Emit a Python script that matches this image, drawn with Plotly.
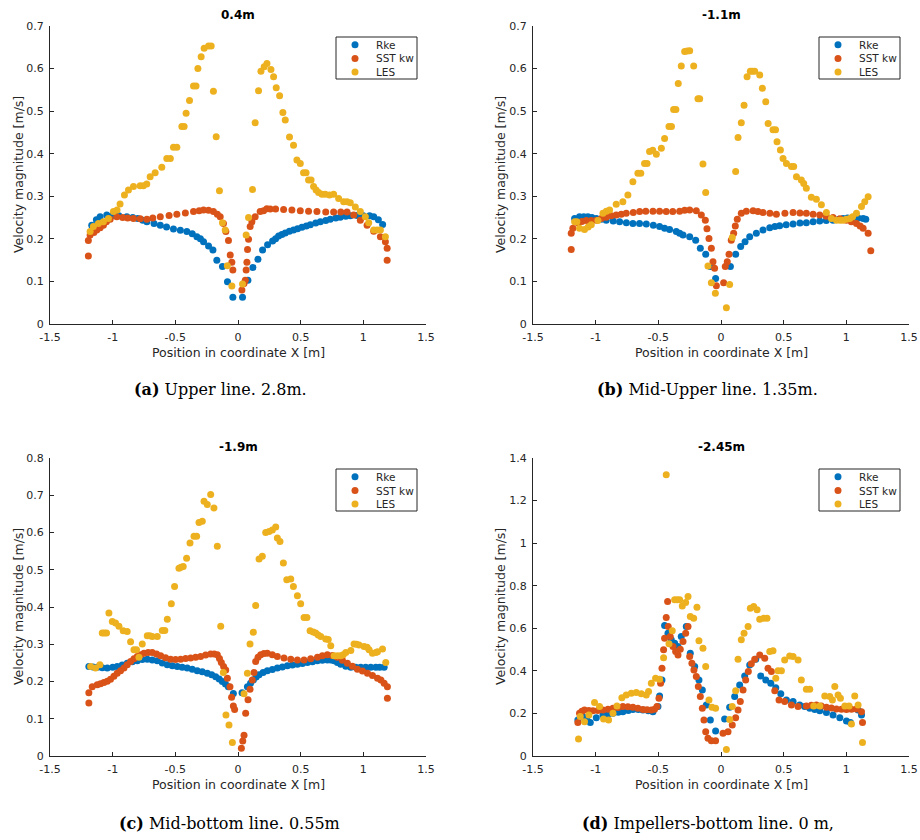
import plotly.graph_objects as go

W, H = 920, 840

X_TICKS = [-1.5, -1, -0.5, 0, 0.5, 1, 1.5]
X_TICK_TEXT = ["-1.5", "-1", "-0.5", "0", "0.5", "1", "1.5"]
Y_TICKS_07 = [0, 0.1, 0.2, 0.3, 0.4, 0.5, 0.6, 0.7]
Y_TICK_TEXT_07 = ["0", "0.1", "0.2", "0.3", "0.4", "0.5", "0.6", "0.7"]
Y_TICKS_08 = [0, 0.1, 0.2, 0.3, 0.4, 0.5, 0.6, 0.7, 0.8]
Y_TICK_TEXT_08 = ["0", "0.1", "0.2", "0.3", "0.4", "0.5", "0.6", "0.7", "0.8"]
Y_TICKS_14 = [0, 0.2, 0.4, 0.6, 0.8, 1.0, 1.2, 1.4]
Y_TICK_TEXT_14 = ["0", "0.2", "0.4", "0.6", "0.8", "1", "1.2", "1.4"]

SERIES_NAMES = ["Rke", "SST kw", "LES"]
SERIES_COLORS = ["#0072BD", "#D95319", "#EDB120"]

PANEL_TITLES = ["0.4m", "-1.1m", "-1.9m", "-2.45m"]
PANEL_CAPTIONS = [("(a)", "Upper line. 2.8m."), ("(b)", "Mid-Upper line. 1.35m."),
                  ("(c)", "Mid-bottom line. 0.55m"), ("(d)", "Impellers-bottom line. 0 m,")]
X_LABEL = "Position in coordinate X [m]"
Y_LABEL = "Velocity magnitude [m/s]"

# ---------------- (a) 0.4m ----------------
A_RKE = [(-1.167,0.232),(-1.13,0.245),(-1.1,0.252),(-1.047,0.256),(-1.0,0.255),(-0.95,0.254),(-0.887,0.252),
         (-0.84,0.25),(-0.8,0.248),(-0.76,0.244),(-0.727,0.240),(-0.67,0.236),(-0.62,0.232),(-0.57,0.228),
         (-0.515,0.223),(-0.46,0.22),(-0.408,0.217),(-0.365,0.212),(-0.328,0.205),(-0.3,0.2),(-0.275,0.193),
         (-0.235,0.183),(-0.2,0.174),(-0.169,0.150),(-0.124,0.135),(-0.084,0.099),(-0.041,0.063),(0.036,0.063),
         (0.079,0.103),(0.119,0.133),(0.159,0.152),(0.196,0.174),(0.236,0.186),(0.276,0.195),(0.3,0.2),
         (0.324,0.207),(0.35,0.21),(0.377,0.214),(0.41,0.218),(0.443,0.221),(0.475,0.224),(0.51,0.227),
         (0.545,0.23),(0.577,0.233),(0.62,0.237),(0.657,0.240),(0.7,0.243),(0.736,0.246),(0.78,0.249),
         (0.816,0.251),(0.86,0.253),(0.896,0.254),(0.95,0.255),(1.0,0.254),(1.05,0.254),(1.083,0.252),
         (1.12,0.245),(1.154,0.234)]
A_SST = [(-1.194,0.160),(-1.194,0.196),(-1.18,0.209),(-1.15,0.215),(-1.127,0.221),(-1.1,0.226),(-1.074,0.232),
         (-1.05,0.24),(-1.02,0.246),(-0.967,0.252),(-0.92,0.25),(-0.88,0.249),(-0.834,0.248),(-0.78,0.247),
         (-0.727,0.246),(-0.68,0.249),(-0.62,0.252),(-0.55,0.255),(-0.488,0.258),(-0.42,0.261),(-0.355,0.264),
         (-0.31,0.266),(-0.275,0.268),(-0.235,0.267),(-0.196,0.264),(-0.165,0.258),(-0.142,0.252),(-0.116,0.236),
         (-0.097,0.217),(-0.076,0.196),(-0.062,0.162),(-0.049,0.145),(-0.041,0.127),(0.031,0.080),(0.048,0.095),
         (0.058,0.103),(0.065,0.127),(0.071,0.145),(0.076,0.175),(0.084,0.199),(0.097,0.229),(0.111,0.240),
         (0.137,0.252),(0.177,0.264),(0.204,0.266),(0.23,0.271),(0.257,0.270),(0.3,0.27),(0.364,0.269),
         (0.43,0.268),(0.497,0.266),(0.563,0.265),(0.63,0.264),(0.7,0.263),(0.763,0.263),(0.82,0.263),
         (0.87,0.263),(0.923,0.256),(0.976,0.244),(1.03,0.232),(1.083,0.218),(1.136,0.205),(1.176,0.193),
         (1.19,0.178),(1.19,0.150)]
A_LES = [(-1.18,0.217),(-1.154,0.229),(-1.114,0.236),(-1.074,0.240),(-1.034,0.248),(-0.994,0.264),(-0.965,0.268),
         (-0.941,0.282),(-0.906,0.303),(-0.874,0.315),(-0.834,0.323),(-0.781,0.325),(-0.755,0.325),(-0.728,0.329),
         (-0.701,0.346),(-0.661,0.355),(-0.608,0.368),(-0.568,0.389),(-0.54,0.389),(-0.515,0.415),(-0.488,0.415),
         (-0.448,0.464),(-0.43,0.464),(-0.414,0.495),(-0.387,0.525),(-0.355,0.559),(-0.335,0.559),(-0.32,0.600),
         (-0.294,0.628),(-0.27,0.648),(-0.235,0.653),(-0.214,0.653),(-0.196,0.547),(-0.174,0.440),(-0.148,0.313),
         (-0.124,0.238),(-0.102,0.221),(-0.085,0.137),(-0.049,0.089),(0.036,0.094),(0.065,0.209),(0.084,0.250),
         (0.116,0.316),(0.137,0.473),(0.164,0.548),(0.183,0.594),(0.209,0.604),(0.231,0.612),(0.263,0.598),
         (0.284,0.581),(0.305,0.555),(0.332,0.536),(0.358,0.497),(0.377,0.479),(0.411,0.439),(0.443,0.420),
         (0.470,0.385),(0.497,0.377),(0.523,0.355),(0.543,0.355),(0.563,0.338),(0.583,0.338),(0.603,0.323),
         (0.623,0.315),(0.643,0.309),(0.67,0.305),(0.696,0.305),(0.73,0.303),(0.763,0.305),(0.803,0.295),
         (0.843,0.287),(0.87,0.287),(0.896,0.285),(0.936,0.275),(0.976,0.264),(1.016,0.252),(1.043,0.238),
         (1.083,0.221),(1.11,0.221),(1.136,0.221),(1.176,0.205)]

# ---------------- (b) -1.1m ----------------
B_RKE = [(-1.168,0.248),(-1.129,0.252),(-1.095,0.252),(-1.062,0.252),(-1.03,0.25),(-0.995,0.248),(-0.955,0.246),
         (-0.916,0.244),(-0.86,0.242),(-0.809,0.240),(-0.755,0.238),(-0.703,0.236),(-0.65,0.236),(-0.596,0.235),
         (-0.54,0.232),(-0.49,0.229),(-0.45,0.225),(-0.41,0.222),(-0.357,0.217),(-0.33,0.213),(-0.303,0.209),
         (-0.25,0.205),(-0.202,0.197),(-0.165,0.178),(-0.122,0.164),(-0.085,0.135),(-0.043,0.107),(0.075,0.135),
         (0.117,0.164),(0.157,0.182),(0.192,0.193),(0.229,0.205),(0.282,0.213),(0.335,0.221),(0.389,0.226),
         (0.43,0.229),(0.468,0.231),(0.52,0.233),(0.575,0.235),(0.63,0.237),(0.681,0.238),(0.735,0.24),
         (0.788,0.242),(0.84,0.243),(0.894,0.244),(0.94,0.246),(0.974,0.248),(1.01,0.249),(1.054,0.250),
         (1.094,0.249),(1.134,0.248),(1.155,0.246)]
B_SST = [(-1.195,0.175),(-1.195,0.213),(-1.182,0.225),(-1.142,0.238),(-1.11,0.241),(-1.075,0.243),(-1.035,0.243),
         (-0.995,0.244),(-0.955,0.248),(-0.916,0.251),(-0.876,0.254),(-0.836,0.256),(-0.796,0.258),(-0.756,0.260),
         (-0.7,0.262),(-0.649,0.264),(-0.6,0.265),(-0.543,0.265),(-0.49,0.265),(-0.437,0.264),(-0.385,0.264),
         (-0.33,0.265),(-0.29,0.267),(-0.25,0.268),(-0.197,0.266),(-0.157,0.256),(-0.125,0.244),(-0.112,0.224),
         (-0.096,0.201),(-0.077,0.178),(-0.064,0.146),(-0.051,0.131),(-0.037,0.090),(0.021,0.097),(0.034,0.135),
         (0.05,0.146),(0.064,0.164),(0.082,0.197),(0.101,0.213),(0.114,0.230),(0.13,0.246),(0.162,0.260),
         (0.202,0.265),(0.256,0.266),(0.295,0.264),(0.335,0.262),(0.39,0.26),(0.442,0.258),(0.51,0.26),
         (0.575,0.262),(0.63,0.261),(0.681,0.260),(0.735,0.258),(0.788,0.256),(0.84,0.253),(0.894,0.250),
         (0.95,0.247),(1.001,0.244),(1.04,0.24),(1.081,0.236),(1.11,0.23),(1.134,0.225),(1.174,0.213),
         (1.195,0.172)]
B_LES = [(-1.168,0.240),(-1.15,0.24),(-1.129,0.225),(-1.089,0.222),(-1.06,0.228),(-1.035,0.233),(-0.982,0.243),
         (-0.942,0.260),(-0.915,0.265),(-0.889,0.268),(-0.836,0.281),(-0.783,0.287),(-0.743,0.303),(-0.703,0.334),
         (-0.663,0.354),(-0.64,0.354),(-0.61,0.377),(-0.59,0.377),(-0.57,0.405),(-0.545,0.408),(-0.516,0.399),
         (-0.476,0.413),(-0.45,0.436),(-0.415,0.464),(-0.395,0.464),(-0.378,0.504),(-0.36,0.504),(-0.341,0.565),
         (-0.317,0.606),(-0.29,0.640),(-0.27,0.641),(-0.25,0.642),(-0.218,0.606),(-0.184,0.529),(-0.17,0.529),
         (-0.144,0.376),(-0.122,0.309),(-0.104,0.136),(-0.077,0.097),(-0.045,0.072),(0.043,0.038),(0.069,0.093),
         (0.09,0.203),(0.117,0.358),(0.136,0.438),(0.162,0.473),(0.184,0.514),(0.208,0.581),(0.234,0.594),
         (0.25,0.594),(0.269,0.594),(0.309,0.585),(0.33,0.554),(0.357,0.522),(0.376,0.471),(0.415,0.456),
         (0.435,0.456),(0.447,0.428),(0.474,0.409),(0.495,0.389),(0.522,0.377),(0.562,0.370),(0.58,0.37),
         (0.602,0.346),(0.641,0.338),(0.66,0.33),(0.681,0.319),(0.721,0.298),(0.761,0.293),(0.801,0.280),
         (0.841,0.262),(0.881,0.248),(0.921,0.244),(0.95,0.244),(0.974,0.244),(1.0,0.246),(1.027,0.248),
         (1.05,0.252),(1.081,0.260),(1.121,0.276),(1.147,0.287),(1.174,0.299)]

# ---------------- (c) -1.9m ----------------
C_RKE = [(-1.19,0.240),(-1.157,0.239),(-1.123,0.238),(-1.083,0.237),(-1.043,0.236),(-1.0,0.238),(-0.964,0.240),
         (-0.924,0.244),(-0.884,0.249),(-0.844,0.253),(-0.804,0.256),(-0.764,0.259),(-0.724,0.260),(-0.684,0.258),
         (-0.644,0.256),(-0.604,0.25),(-0.564,0.245),(-0.524,0.242),(-0.484,0.240),(-0.445,0.238),(-0.405,0.236),
         (-0.365,0.233),(-0.325,0.229),(-0.285,0.226),(-0.245,0.222),(-0.21,0.218),(-0.178,0.213),(-0.15,0.207),
         (-0.125,0.200),(-0.1,0.193),(-0.077,0.186),(-0.037,0.168),(0.032,0.170),(0.075,0.186),(0.1,0.195),
         (0.122,0.204),(0.145,0.212),(0.168,0.218),(0.2,0.224),(0.234,0.229),(0.274,0.232),(0.314,0.236),
         (0.354,0.239),(0.394,0.242),(0.434,0.244),(0.474,0.246),(0.514,0.248),(0.554,0.251),(0.594,0.253),
         (0.633,0.256),(0.673,0.257),(0.713,0.258),(0.74,0.258),(0.767,0.256),(0.793,0.251),(0.82,0.246),
         (0.86,0.241),(0.9,0.238),(0.94,0.238),(0.979,0.238),(1.019,0.238),(1.059,0.238),(1.1,0.238),
         (1.13,0.238),(1.166,0.238)]
C_SST = [(-1.19,0.142),(-1.19,0.170),(-1.163,0.186),(-1.123,0.191),(-1.097,0.194),(-1.07,0.197),(-1.043,0.201),
         (-1.017,0.206),(-0.99,0.214),(-0.964,0.222),(-0.937,0.229),(-0.91,0.236),(-0.884,0.245),(-0.857,0.254),
         (-0.83,0.261),(-0.804,0.267),(-0.777,0.272),(-0.75,0.276),(-0.717,0.278),(-0.684,0.278),(-0.65,0.274),
         (-0.617,0.269),(-0.578,0.264),(-0.538,0.260),(-0.498,0.259),(-0.458,0.260),(-0.418,0.262),(-0.378,0.263),
         (-0.338,0.265),(-0.298,0.267),(-0.258,0.271),(-0.218,0.274),(-0.19,0.274),(-0.165,0.272),(-0.148,0.262),
         (-0.133,0.251),(-0.115,0.24),(-0.098,0.231),(-0.085,0.209),(-0.064,0.186),(-0.051,0.158),(-0.037,0.134),
         (-0.027,0.125),(0.027,0.021),(0.038,0.04),(0.048,0.056),(0.061,0.115),(0.08,0.151),(0.096,0.179),
         (0.114,0.204),(0.128,0.224),(0.141,0.254),(0.16,0.265),(0.181,0.272),(0.207,0.275),(0.234,0.276),
         (0.274,0.272),(0.314,0.267),(0.367,0.263),(0.421,0.260),(0.474,0.258),(0.527,0.258),(0.58,0.261),
         (0.634,0.265),(0.673,0.269),(0.713,0.272),(0.753,0.27),(0.793,0.265),(0.833,0.257),(0.873,0.249),
         (0.913,0.241),(0.953,0.233),(0.993,0.228),(1.033,0.222),(1.073,0.216),(1.113,0.209),(1.14,0.204),
         (1.166,0.195),(1.192,0.186),(1.192,0.155)]
C_LES = [(-1.176,0.240),(-1.137,0.236),(-1.102,0.245),(-1.083,0.330),(-1.066,0.330),(-1.049,0.330),(-1.03,0.384),
         (-1.003,0.361),(-0.977,0.357),(-0.95,0.348),(-0.916,0.336),(-0.884,0.334),(-0.857,0.307),(-0.83,0.285),
         (-0.81,0.285),(-0.79,0.265),(-0.764,0.301),(-0.724,0.323),(-0.704,0.323),(-0.684,0.321),(-0.644,0.321),
         (-0.604,0.337),(-0.584,0.337),(-0.564,0.367),(-0.532,0.409),(-0.506,0.455),(-0.471,0.504),(-0.455,0.507),
         (-0.437,0.509),(-0.41,0.531),(-0.383,0.572),(-0.351,0.590),(-0.33,0.590),(-0.311,0.627),(-0.285,0.630),
         (-0.271,0.684),(-0.245,0.675),(-0.218,0.702),(-0.192,0.666),(-0.165,0.563),(-0.138,0.348),(-0.117,0.224),
         (-0.096,0.110),(-0.072,0.083),(-0.045,0.036),(0.048,0.167),(0.075,0.222),(0.096,0.301),(0.122,0.332),
         (0.141,0.404),(0.168,0.529),(0.194,0.536),(0.221,0.600),(0.248,0.603),(0.274,0.607),(0.301,0.615),
         (0.314,0.585),(0.335,0.576),(0.362,0.518),(0.389,0.473),(0.421,0.475),(0.442,0.455),(0.474,0.430),
         (0.5,0.409),(0.527,0.372),(0.55,0.372),(0.575,0.336),(0.6,0.333),(0.62,0.330),(0.64,0.325),(0.66,0.321),
         (0.7,0.314),(0.72,0.313),(0.74,0.296),(0.767,0.269),(0.795,0.269),(0.82,0.269),(0.84,0.272),(0.86,0.278),
         (0.9,0.283),(0.926,0.301),(0.946,0.300),(0.966,0.298),(1.006,0.294),(1.03,0.292),(1.046,0.285),
         (1.073,0.276),(1.1,0.278),(1.113,0.280),(1.153,0.287),(1.179,0.251)]

# ---------------- (d) -2.45m ----------------
D_RKE = [(-1.142,0.169),(-1.102,0.185),(-1.07,0.17),(-1.043,0.157),(-0.995,0.180),(-0.942,0.193),(-0.9,0.197),
         (-0.862,0.201),(-0.82,0.205),(-0.783,0.208),(-0.74,0.214),(-0.703,0.219),(-0.66,0.218),(-0.623,0.216),
         (-0.58,0.212),(-0.543,0.208),(-0.503,0.232),(-0.49,0.282),(-0.471,0.357),(-0.45,0.613),(-0.423,0.577),
         (-0.397,0.546),(-0.37,0.530),(-0.344,0.514),(-0.317,0.561),(-0.277,0.608),(-0.245,0.483),(-0.21,0.420),
         (-0.176,0.357),(-0.149,0.310),(-0.117,0.240),(-0.085,0.169),(-0.043,0.118),(0.029,0.174),(0.069,0.229),
         (0.109,0.279),(0.149,0.334),(0.189,0.376),(0.229,0.428),(0.277,0.455),(0.317,0.376),(0.357,0.357),
         (0.397,0.342),(0.437,0.321),(0.477,0.292),(0.522,0.263),(0.575,0.256),(0.628,0.240),(0.668,0.232),
         (0.708,0.224),(0.748,0.218),(0.788,0.213),(0.841,0.204),(0.894,0.193),(0.948,0.180),(1.001,0.165),
         (1.033,0.157),(1.094,0.216),(1.121,0.193)]
D_SST = [(-1.142,0.157),(-1.129,0.201),(-1.11,0.21),(-1.089,0.216),(-1.055,0.214),(-1.022,0.212),(-0.982,0.214),
         (-0.942,0.216),(-0.902,0.22),(-0.862,0.224),(-0.822,0.228),(-0.783,0.232),(-0.743,0.231),(-0.703,0.229),
         (-0.663,0.224),(-0.623,0.219),(-0.59,0.217),(-0.556,0.216),(-0.53,0.22),(-0.511,0.232),(-0.495,0.271),
         (-0.482,0.342),(-0.471,0.412),(-0.458,0.499),(-0.45,0.553),(-0.437,0.651),(-0.426,0.726),(-0.421,0.608),
         (-0.405,0.561),(-0.383,0.514),(-0.362,0.491),(-0.343,0.475),(-0.325,0.502),(-0.303,0.538),(-0.282,0.577),
         (-0.263,0.608),(-0.25,0.467),(-0.232,0.436),(-0.216,0.404),(-0.197,0.373),(-0.181,0.326),(-0.165,0.279),
         (-0.149,0.224),(-0.136,0.169),(-0.122,0.114),(-0.104,0.083),(-0.077,0.072),(-0.043,0.072),(0.016,0.107),
         (0.056,0.114),(0.09,0.146),(0.117,0.180),(0.136,0.216),(0.154,0.256),(0.176,0.310),(0.197,0.357),
         (0.218,0.397),(0.242,0.433),(0.269,0.455),(0.309,0.475),(0.349,0.459),(0.375,0.412),(0.402,0.397),
         (0.429,0.307),(0.463,0.263),(0.508,0.256),(0.562,0.240),(0.615,0.232),(0.681,0.235),(0.721,0.238),
         (0.761,0.240),(0.8,0.235),(0.841,0.229),(0.881,0.225),(0.921,0.221),(0.961,0.22),(1.001,0.219),
         (1.041,0.22),(1.081,0.221),(1.121,0.208),(1.129,0.157)]
D_LES = [(-1.137,0.080),(-1.123,0.185),(-1.089,0.161),(-1.054,0.193),(-1.009,0.251),(-0.969,0.232),(-0.937,0.174),
         (-0.897,0.169),(-0.862,0.201),(-0.83,0.235),(-0.791,0.274),(-0.756,0.287),(-0.716,0.295),(-0.676,0.298),
         (-0.636,0.292),(-0.596,0.287),(-0.578,0.303),(-0.556,0.342),(-0.522,0.365),(-0.49,0.361),(-0.458,0.462),
         (-0.437,1.321),(-0.415,0.527),(-0.389,0.589),(-0.37,0.734),(-0.35,0.734),(-0.33,0.734),(-0.309,0.705),
         (-0.282,0.721),(-0.263,0.749),(-0.245,0.655),(-0.218,0.647),(-0.192,0.699),(-0.176,0.541),(-0.144,0.506),
         (-0.122,0.420),(-0.096,0.263),(-0.072,0.229),(-0.043,0.224),(0.043,0.031),(0.069,0.172),(0.09,0.232),
         (0.117,0.307),(0.136,0.455),(0.162,0.546),(0.184,0.577),(0.216,0.608),(0.234,0.694),(0.261,0.702),
         (0.288,0.687),(0.309,0.643),(0.341,0.647),(0.367,0.647),(0.389,0.491),(0.415,0.494),(0.437,0.365),
         (0.455,0.401),(0.482,0.401),(0.508,0.451),(0.548,0.470),(0.575,0.467),(0.615,0.451),(0.641,0.357),
         (0.681,0.314),(0.708,0.314),(0.74,0.235),(0.788,0.235),(0.828,0.282),(0.868,0.279),(0.889,0.263),
         (0.908,0.326),(0.934,0.287),(0.953,0.271),(0.988,0.235),(1.022,0.235),(1.041,0.150),(1.067,0.282),
         (1.094,0.240),(1.129,0.063)]

PANEL_DATA = [(A_RKE, A_SST, A_LES), (B_RKE, B_SST, B_LES), (C_RKE, C_SST, C_LES), (D_RKE, D_SST, D_LES)]
PANEL_YTICKS = [(Y_TICKS_07, Y_TICK_TEXT_07), (Y_TICKS_07, Y_TICK_TEXT_07),
                (Y_TICKS_08, Y_TICK_TEXT_08), (Y_TICKS_14, Y_TICK_TEXT_14)]

# ---------------- layout geometry (pixels) ----------------
AX_LEFT = [50, 533, 50, 533]
AX_RIGHT = [426, 909, 426, 909]
AX_TOP = [26, 26, 458, 458]
AX_BOTTOM = [324, 324, 756, 756]
LEG_L = [336, 819, 336, 819]
LEG_T = [37, 37, 469, 469]
LEG_W = 81
LEG_H = 42
LEG_ROWS = [7.7, 21.5, 35.0]
YLAB_X = [18, 500, 18, 500]
CAP_X = [220, 707, 229, 708]
CAP_Y = [389, 389, 823, 823]

AX_COLOR = "#262626"
SANS = "DejaVu Sans"
MARKER_D = 7

def px(x):
    return x / W

def py(y):
    return 1 - y / H

fig = go.Figure()
annotations = []
shapes = []
layout = {}

for i in range(4):
    sfx = "" if i == 0 else str(i + 1)
    xa, ya = "x" + sfx, "y" + sfx
    for k in range(3):
        pts = PANEL_DATA[i][k]
        fig.add_trace(go.Scatter(
            x=[p[0] for p in pts], y=[p[1] for p in pts],
            mode="markers", name=SERIES_NAMES[k],
            marker=dict(color=SERIES_COLORS[k], size=MARKER_D, line=dict(width=0)),
            xaxis=xa, yaxis=ya, showlegend=False))
    yt, ytt = PANEL_YTICKS[i]
    common = dict(ticks="inside", ticklen=4, tickcolor=AX_COLOR, tickwidth=1,
                  showline=True, linecolor=AX_COLOR, linewidth=1,
                  showgrid=False, zeroline=False, automargin=False,
                  tickfont=dict(family=SANS, size=11, color=AX_COLOR))
    layout["xaxis" + sfx] = dict(
        domain=[px(AX_LEFT[i]), px(AX_RIGHT[i])], anchor=ya,
        range=[-1.5, 1.5], tickvals=X_TICKS, ticktext=X_TICK_TEXT,
        ticklabelstandoff=3, **common)
    layout["yaxis" + sfx] = dict(
        domain=[py(AX_BOTTOM[i]), py(AX_TOP[i])], anchor=xa,
        range=[0, yt[-1]], tickvals=yt, ticktext=ytt,
        ticklabelstandoff=3, **common)

    # legend box (drawn like the MATLAB legend)
    L, T = LEG_L[i], LEG_T[i]
    shapes.append(dict(type="rect", xref="paper", yref="paper",
                       x0=px(L), x1=px(L + LEG_W), y0=py(T + LEG_H), y1=py(T),
                       line=dict(color=AX_COLOR, width=1), fillcolor="white", layer="above"))
    for k in range(3):
        cy = T + LEG_ROWS[k]
        shapes.append(dict(type="circle", xref="paper", yref="paper",
                           xsizemode="pixel", ysizemode="pixel",
                           xanchor=px(L + 19), yanchor=py(cy),
                           x0=-MARKER_D / 2, x1=MARKER_D / 2, y0=-MARKER_D / 2, y1=MARKER_D / 2,
                           fillcolor=SERIES_COLORS[k], line=dict(width=0), layer="above"))
        annotations.append(dict(
            text=SERIES_NAMES[k], x=px(L + 38), y=py(cy), xref="paper", yref="paper",
            showarrow=False, xanchor="left", yanchor="middle",
            font=dict(family=SANS, size=10.5, color=AX_COLOR)))

    cx = (AX_LEFT[i] + AX_RIGHT[i]) / 2
    annotations.append(dict(
        text="<b>" + PANEL_TITLES[i] + "</b>", x=px(cx), y=py(AX_TOP[i] - 11),
        xref="paper", yref="paper", showarrow=False, xanchor="center", yanchor="middle",
        font=dict(family=SANS, size=12, color="black")))
    annotations.append(dict(
        text=X_LABEL, x=px(cx), y=py(AX_BOTTOM[i] + 28),
        xref="paper", yref="paper", showarrow=False, xanchor="center", yanchor="middle",
        font=dict(family=SANS, size=12.5, color=AX_COLOR)))
    annotations.append(dict(
        text=Y_LABEL, x=px(YLAB_X[i]), y=py((AX_TOP[i] + AX_BOTTOM[i]) / 2),
        xref="paper", yref="paper", showarrow=False, xanchor="center", yanchor="middle",
        textangle=-90, font=dict(family=SANS, size=12.5, color=AX_COLOR)))
    tag, cap = PANEL_CAPTIONS[i]
    annotations.append(dict(
        text="<b>" + tag + "</b> " + cap, x=px(CAP_X[i]), y=py(CAP_Y[i]),
        xref="paper", yref="paper", showarrow=False, xanchor="center", yanchor="middle",
        font=dict(family="DejaVu Serif", size=16, color="black")))

fig.update_layout(
    width=W, height=H, margin=dict(l=0, r=0, t=0, b=0, autoexpand=False),
    paper_bgcolor="white", plot_bgcolor="white", showlegend=False,
    annotations=annotations, shapes=shapes, **layout)

fig.write_html("out.html", config={"displayModeBar": False},
               post_script="document.body.style.margin='0';document.body.style.overflow='hidden';")
